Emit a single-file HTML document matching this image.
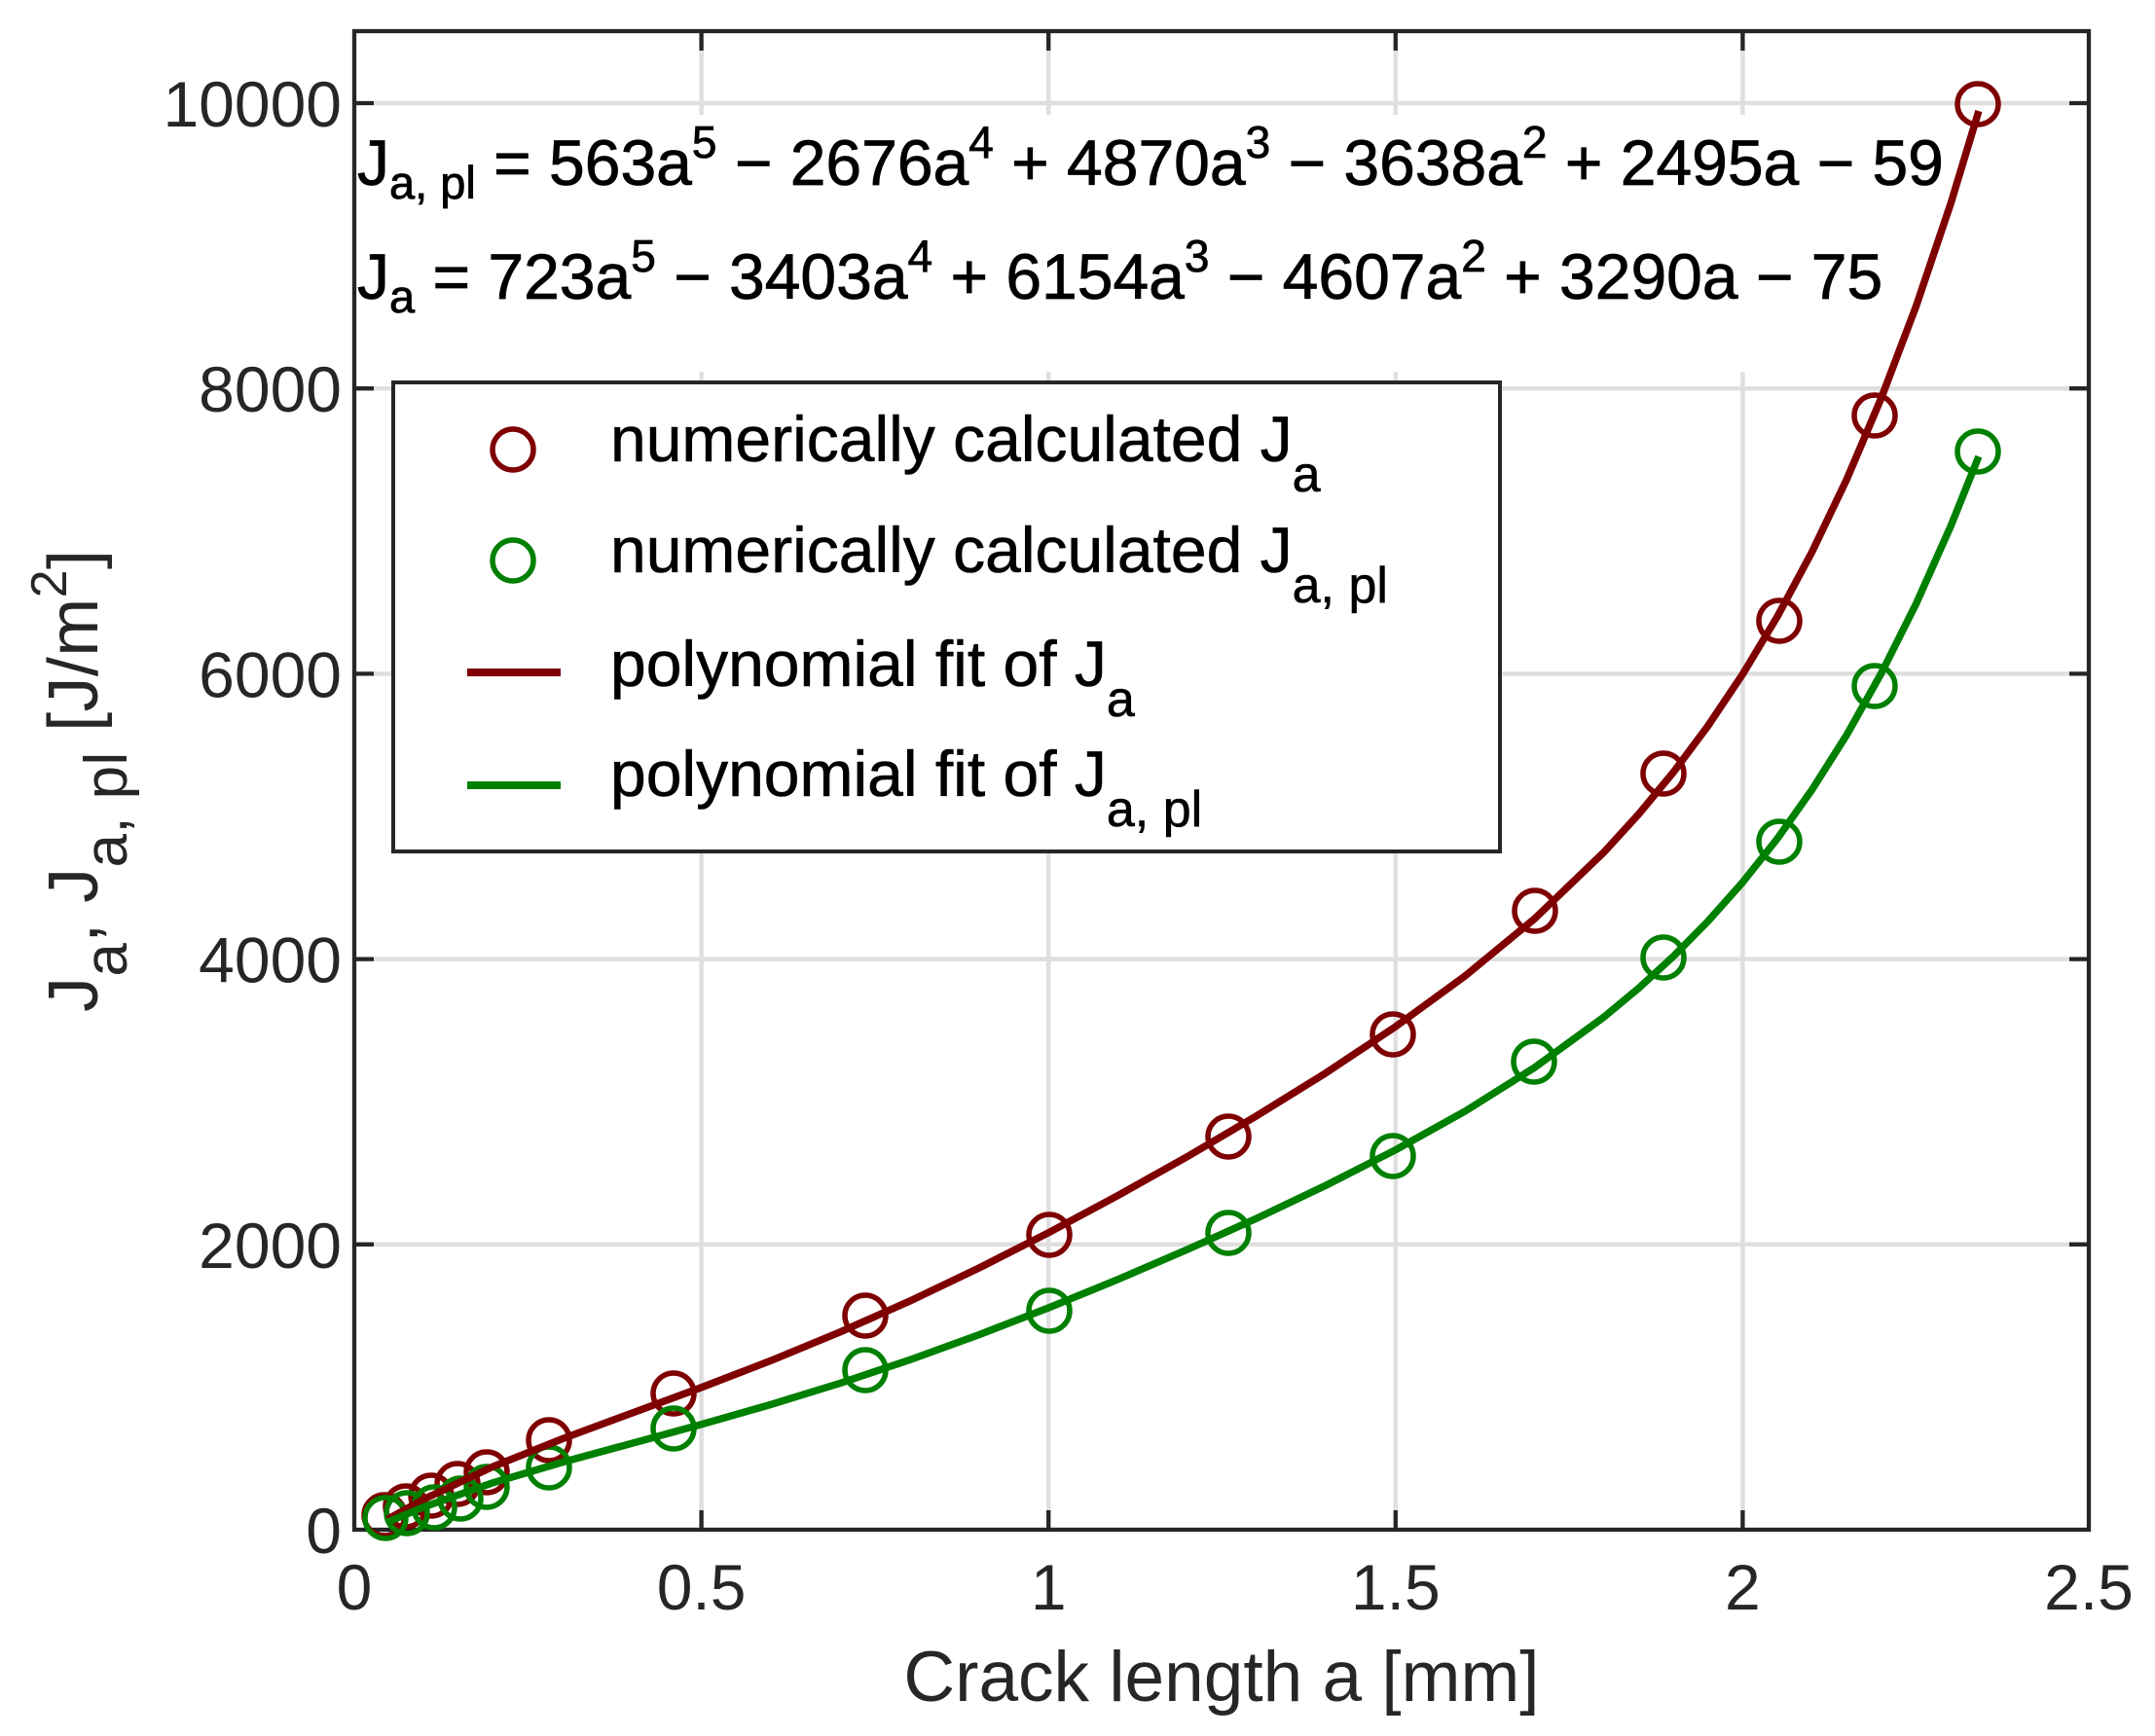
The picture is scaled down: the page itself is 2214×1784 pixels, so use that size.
<!DOCTYPE html>
<html>
<head>
<meta charset="utf-8">
<style>
html,body{margin:0;padding:0;background:#ffffff;}
svg{display:block;}
</style>
</head>
<body>
<svg width="2214" height="1784" viewBox="0 0 2214 1784" xmlns="http://www.w3.org/2000/svg" font-family="'Liberation Sans', Arial, Helvetica, sans-serif">
<rect x="0" y="0" width="2214" height="1784" fill="#ffffff"/>

<!-- grid -->
<g stroke="#dfdfdf" stroke-width="4.5" fill="none">
  <line x1="720.6" y1="32" x2="720.6" y2="1572"/>
  <line x1="1077.2" y1="32" x2="1077.2" y2="1572"/>
  <line x1="1433.8" y1="32" x2="1433.8" y2="1572"/>
  <line x1="1790.4" y1="32" x2="1790.4" y2="1572"/>
  <line x1="364" y1="1278.8" x2="2146" y2="1278.8"/>
  <line x1="364" y1="985.6" x2="2146" y2="985.6"/>
  <line x1="364" y1="692.4" x2="2146" y2="692.4"/>
  <line x1="364" y1="399.2" x2="2146" y2="399.2"/>
  <line x1="364" y1="106" x2="2146" y2="106"/>
</g>

<!-- white box behind equations -->
<rect x="367" y="118" width="1650" height="264" fill="#ffffff"/>

<!-- axes box -->
<rect x="364" y="32" width="1782" height="1540" fill="none" stroke="#262626" stroke-width="4.3"/>

<!-- ticks -->
<g stroke="#262626" stroke-width="4.3">
  <line x1="720.6" y1="1572" x2="720.6" y2="1552"/>
  <line x1="1077.2" y1="1572" x2="1077.2" y2="1552"/>
  <line x1="1433.8" y1="1572" x2="1433.8" y2="1552"/>
  <line x1="1790.4" y1="1572" x2="1790.4" y2="1552"/>
  <line x1="720.6" y1="32" x2="720.6" y2="52"/>
  <line x1="1077.2" y1="32" x2="1077.2" y2="52"/>
  <line x1="1433.8" y1="32" x2="1433.8" y2="52"/>
  <line x1="1790.4" y1="32" x2="1790.4" y2="52"/>
  <line x1="364" y1="1278.8" x2="384" y2="1278.8"/>
  <line x1="364" y1="985.6" x2="384" y2="985.6"/>
  <line x1="364" y1="692.4" x2="384" y2="692.4"/>
  <line x1="364" y1="399.2" x2="384" y2="399.2"/>
  <line x1="364" y1="106" x2="384" y2="106"/>
  <line x1="2146" y1="1278.8" x2="2126" y2="1278.8"/>
  <line x1="2146" y1="985.6" x2="2126" y2="985.6"/>
  <line x1="2146" y1="692.4" x2="2126" y2="692.4"/>
  <line x1="2146" y1="399.2" x2="2126" y2="399.2"/>
  <line x1="2146" y1="106" x2="2126" y2="106"/>
</g>

<!-- tick labels -->
<g fill="#262626" font-size="66">
  <g text-anchor="end">
    <text x="351" y="1596">0</text>
    <text x="351" y="1302.8">2000</text>
    <text x="351" y="1009.6">4000</text>
    <text x="351" y="716.4">6000</text>
    <text x="351" y="423.2">8000</text>
    <text x="351" y="130">10000</text>
  </g>
  <g text-anchor="middle">
    <text x="364" y="1654">0</text>
    <text x="720.6" y="1654">0.5</text>
    <text x="1077.2" y="1654">1</text>
    <text x="1433.8" y="1654">1.5</text>
    <text x="1790.4" y="1654">2</text>
    <text x="2146" y="1654">2.5</text>
  </g>
</g>

<!-- axis labels -->
<text x="1255" y="1748" font-size="73" fill="#262626" text-anchor="middle">Crack length a [mm]</text>
<text transform="translate(100,1040) rotate(-90)" font-size="72" fill="#262626" textLength="475" lengthAdjust="spacing">J<tspan font-size="62" dy="30">a</tspan><tspan dy="-30">, J</tspan><tspan font-size="62" dy="30">a, pl</tspan><tspan dy="-30"> [J/m</tspan><tspan font-size="52" dy="-32">2</tspan><tspan dy="32">]</tspan></text>

<!-- data markers: red -->
<g fill="none" stroke="#7f0000" stroke-width="5.5">
  <circle cx="395" cy="1557" r="21"/>
  <circle cx="417" cy="1548" r="21"/>
  <circle cx="443" cy="1537" r="21"/>
  <circle cx="470" cy="1525" r="21"/>
  <circle cx="500" cy="1513" r="21"/>
  <circle cx="564" cy="1480" r="21"/>
  <circle cx="692" cy="1432" r="21"/>
  <circle cx="889" cy="1352" r="21"/>
  <circle cx="1078" cy="1269" r="21"/>
  <circle cx="1262" cy="1168" r="21"/>
  <circle cx="1431" cy="1063" r="21"/>
  <circle cx="1577" cy="936" r="21"/>
  <circle cx="1709" cy="795" r="21"/>
  <circle cx="1828" cy="638" r="21"/>
  <circle cx="1926" cy="427" r="21"/>
  <circle cx="2032" cy="107" r="21"/>
</g>
<!-- data markers: green -->
<g fill="none" stroke="#008000" stroke-width="5.5">
  <circle cx="396" cy="1560" r="21"/>
  <circle cx="418" cy="1555" r="21"/>
  <circle cx="446" cy="1549" r="21"/>
  <circle cx="473" cy="1540" r="21"/>
  <circle cx="500" cy="1528" r="21"/>
  <circle cx="564" cy="1508" r="21"/>
  <circle cx="692" cy="1468" r="21"/>
  <circle cx="889" cy="1408" r="21"/>
  <circle cx="1078" cy="1347" r="21"/>
  <circle cx="1262" cy="1267" r="21"/>
  <circle cx="1431" cy="1188" r="21"/>
  <circle cx="1576" cy="1091" r="21"/>
  <circle cx="1709" cy="984" r="21"/>
  <circle cx="1828" cy="865" r="21"/>
  <circle cx="1926" cy="705" r="21"/>
  <circle cx="2032" cy="464" r="21"/>
</g>

<!-- fit curves -->
<polyline fill="none" stroke="#7f0000" stroke-width="7.5" stroke-linejoin="round" points="398.2,1561.3 435.3,1540.7 506.6,1507.1 578.0,1478.5 649.3,1452.1 720.6,1425.8 791.9,1398.3 863.2,1368.8 934.6,1337.1 1005.9,1303.0 1077.2,1266.8 1148.5,1228.6 1219.8,1188.6 1291.2,1146.6 1362.5,1102.4 1433.8,1055.0 1505.1,1003.0 1576.4,944.3 1647.8,875.8 1683.4,836.8 1719.1,793.7 1754.7,746.0 1790.4,692.8 1826.1,633.5 1861.7,567.0 1897.4,492.4 1933.0,408.5 1968.7,314.3 2004.4,208.4 2032.9,114.1"/>
<polyline fill="none" stroke="#008000" stroke-width="7.5" stroke-linejoin="round" points="398.2,1564.2 435.3,1548.7 506.6,1523.7 578.0,1502.6 649.3,1483.2 720.6,1463.8 791.9,1443.4 863.2,1421.4 934.6,1397.5 1005.9,1371.6 1077.2,1344.0 1148.5,1314.8 1219.8,1284.1 1291.2,1252.0 1362.5,1218.0 1433.8,1181.7 1505.1,1142.0 1576.4,1097.2 1647.8,1045.2 1683.4,1015.6 1719.1,982.9 1754.7,946.8 1790.4,906.6 1826.1,861.7 1861.7,811.4 1897.4,755.0 1933.0,691.5 1968.7,620.2 2004.4,540.1 2032.9,469.1"/>

<!-- equations -->
<g fill="#000000" font-size="66" stroke="#000000" stroke-width="0.8">
  <text x="367" y="190">J<tspan font-size="47" dy="14">a, pl</tspan><tspan dy="-14"> = 563a</tspan><tspan font-size="46" dy="-28">5</tspan><tspan dy="28"> − 2676a</tspan><tspan font-size="46" dy="-28">4</tspan><tspan dy="28"> + 4870a</tspan><tspan font-size="46" dy="-28">3</tspan><tspan dy="28"> − 3638a</tspan><tspan font-size="46" dy="-28">2</tspan><tspan dy="28"> + 2495a − 59</tspan></text>
  <text x="367" y="307">J<tspan font-size="47" dy="14">a</tspan><tspan dy="-14"> = 723a</tspan><tspan font-size="46" dy="-28">5</tspan><tspan dy="28"> − 3403a</tspan><tspan font-size="46" dy="-28">4</tspan><tspan dy="28"> + 6154a</tspan><tspan font-size="46" dy="-28">3</tspan><tspan dy="28"> − 4607a</tspan><tspan font-size="46" dy="-28">2</tspan><tspan dy="28"> + 3290a − 75</tspan></text>
</g>

<!-- legend -->
<rect x="404" y="393" width="1137" height="482" fill="#ffffff" stroke="#262626" stroke-width="4"/>
<circle cx="527" cy="462" r="21" fill="none" stroke="#7f0000" stroke-width="5.5"/>
<circle cx="527" cy="576" r="21" fill="none" stroke="#008000" stroke-width="5.5"/>
<line x1="480" y1="691" x2="576" y2="691" stroke="#7f0000" stroke-width="8"/>
<line x1="480" y1="807" x2="576" y2="807" stroke="#008000" stroke-width="8"/>
<g fill="#000000" font-size="66" stroke="#000000" stroke-width="0.6">
  <text x="627" y="474">numerically calculated J<tspan font-size="52" dy="31">a</tspan></text>
  <text x="627" y="588">numerically calculated J<tspan font-size="52" dy="31">a, pl</tspan></text>
  <text x="627" y="705">polynomial fit of J<tspan font-size="52" dy="31">a</tspan></text>
  <text x="627" y="818">polynomial fit of J<tspan font-size="52" dy="31">a, pl</tspan></text>
</g>
</svg>
</body>
</html>
